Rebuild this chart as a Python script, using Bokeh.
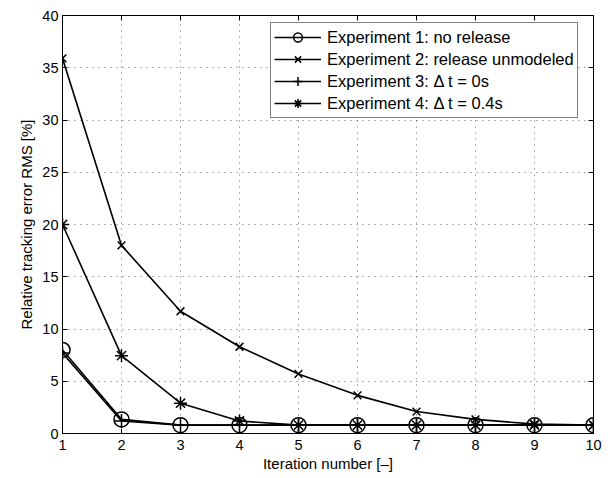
from bokeh.plotting import figure
from bokeh.models import LinearAxis, FixedTicker, Legend, LegendItem, Range1d
from bokeh.embed import file_html
from bokeh.resources import INLINE

iterations = [1, 2, 3, 4, 5, 6, 7, 8, 9, 10]
exp1 = [8.0, 1.35, 0.8, 0.8, 0.8, 0.8, 0.8, 0.8, 0.8, 0.8]
exp2 = [35.9, 18.0, 11.7, 8.3, 5.7, 3.65, 2.1, 1.35, 0.9, 0.8]
exp3 = [7.7, 1.2, 0.8, 0.8, 0.8, 0.8, 0.8, 0.8, 0.8, 0.8]
exp4 = [20.0, 7.45, 2.9, 1.2, 0.8, 0.8, 0.8, 0.8, 0.8, 0.8]
labels = ["Experiment 1: no release", "Experiment 2: release unmodeled",
          "Experiment 3: \u0394 t = 0s", "Experiment 4: \u0394 t = 0.4s"]
x_ticks = [1, 2, 3, 4, 5, 6, 7, 8, 9, 10]
y_ticks = [0, 5, 10, 15, 20, 25, 30, 35, 40]

FONT = "Liberation Sans"

p = figure(width=610, height=478, output_backend="svg", toolbar_location=None,
           x_range=Range1d(1, 10), y_range=Range1d(0, 40),
           min_border_left=62, min_border_right=17, min_border_top=15, min_border_bottom=45)
p.background_fill_color = "white"
p.border_fill_color = "white"
p.outline_line_color = "black"
p.outline_line_width = 1

for ax in (p.xaxis[0], p.yaxis[0]):
    ax.major_tick_in = 5
    ax.major_tick_out = 0
    ax.minor_tick_in = 0
    ax.minor_tick_out = 0
    ax.axis_line_color = "black"
    ax.major_label_text_font = FONT
    ax.major_label_text_font_size = "14.5px"
    ax.major_label_text_color = "black"
    ax.axis_label_text_font = FONT
    ax.axis_label_text_font_size = "15px"
    ax.axis_label_text_font_style = "normal"
    ax.axis_label_text_color = "black"

p.xaxis[0].ticker = FixedTicker(ticks=x_ticks)
p.yaxis[0].ticker = FixedTicker(ticks=y_ticks)
p.xaxis[0].axis_label = "Iteration number [\u2013]"
p.yaxis[0].axis_label = "Relative tracking error RMS [%]"
p.xaxis[0].major_label_standoff = 6
p.yaxis[0].major_label_standoff = 4
p.xaxis[0].axis_label_standoff = 2
p.yaxis[0].axis_label_standoff = 4

top = LinearAxis(ticker=FixedTicker(ticks=x_ticks), major_label_text_font_size="0px",
                 major_label_text_color=None,
                 major_tick_in=5, major_tick_out=0, minor_tick_in=0, minor_tick_out=0)
right = LinearAxis(ticker=FixedTicker(ticks=y_ticks), major_label_text_font_size="0px",
                   major_label_text_color=None,
                   major_tick_in=5, major_tick_out=0, minor_tick_in=0, minor_tick_out=0)
p.add_layout(top, "above")
p.add_layout(right, "right")

p.xgrid.ticker = FixedTicker(ticks=x_ticks)
p.ygrid.ticker = FixedTicker(ticks=y_ticks)
for g in (p.xgrid, p.ygrid):
    g.grid_line_color = "black"
    g.grid_line_alpha = 0.6
    g.grid_line_dash = "1 5"
    g.grid_line_width = 1

series = [(exp1, "circle", 15), (exp2, "x", 11), (exp3, "cross", 14), (exp4, "asterisk", 13)]
items = []
for (ys, marker, size), lab in zip(series, labels):
    l = p.line(iterations, ys, line_color="black", line_width=1.6)
    s = p.scatter(iterations, ys, marker=marker, size=size, line_color="black",
                  fill_color=None, line_width=1.5)
    items.append(LegendItem(label=lab, renderers=[l, s]))

legend = Legend(items=items, location=(208, 315))
legend.label_text_font = FONT
legend.label_text_font_size = "16.5px"
legend.label_text_color = "black"
legend.border_line_color = "black"
legend.border_line_width = 1
legend.background_fill_alpha = 1
legend.glyph_width = 47
legend.glyph_height = 22
legend.label_height = 22
legend.spacing = 0
legend.padding = 3
legend.margin = 0
legend.label_standoff = 6
p.add_layout(legend)

open("out.html", "w").write(file_html(p, INLINE))
